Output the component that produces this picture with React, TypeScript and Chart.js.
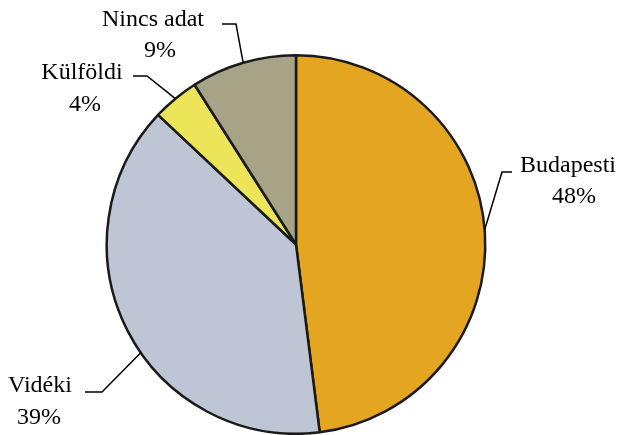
import React, { useEffect, useRef } from "react";
import { Chart, registerables } from "chart.js";

Chart.register(...registerables);

// Share of respondents by place of residence
const categories = ["Budapesti", "Vidéki", "Külföldi", "Nincs adat"];
const shares = [48, 39, 4, 9];
const sliceColors = ["#E4A521", "#BEC6D5", "#ECE55A", "#A7A386"];

// Callout placement: where the leader attaches on the slice (fraction of its
// sweep), the elbow and end of the leader, and the two text lines' anchors.
const callouts = [
  { attach: 0.495, elbow: [502, 172], end: [512, 172], name: [568, 172], pct: [574, 203] },
  { attach: 0.444, elbow: [102, 392], end: [85, 392], name: [40, 392], pct: [39, 424] },
  { attach: 0.5, elbow: [147, 76], end: [133, 76], name: [82, 79], pct: [85, 111] },
  { attach: 0.5, elbow: [236, 24], end: [222, 24], name: [153, 26], pct: [160, 57] },
];

const calloutPlugin = {
  id: "callouts",
  afterDraw(chart: any) {
    const ctx = chart.ctx;
    const meta = chart.getDatasetMeta(0);
    ctx.save();
    meta.data.forEach((arc: any, i: number) => {
      const spec = callouts[i];
      if (!spec) return;
      const { x, y, startAngle, endAngle, outerRadius } = arc.getProps(
        ["x", "y", "startAngle", "endAngle", "outerRadius"],
        true
      );
      const a = startAngle + spec.attach * (endAngle - startAngle);
      const sx = x + outerRadius * Math.cos(a);
      const sy = y + outerRadius * Math.sin(a);
      ctx.beginPath();
      ctx.strokeStyle = "#000000";
      ctx.lineWidth = 1.5;
      ctx.moveTo(sx, sy);
      ctx.lineTo(spec.elbow[0], spec.elbow[1]);
      ctx.lineTo(spec.end[0], spec.end[1]);
      ctx.stroke();

      ctx.fillStyle = "#000000";
      ctx.font = '24px "Liberation Serif", "Times New Roman", serif';
      ctx.textAlign = "center";
      ctx.textBaseline = "alphabetic";
      ctx.fillText(categories[i], spec.name[0], spec.name[1]);
      ctx.fillText(`${shares[i]}%`, spec.pct[0], spec.pct[1]);
    });
    ctx.restore();
  },
};

export default function App() {
  const canvasRef = useRef<HTMLCanvasElement | null>(null);

  useEffect(() => {
    const canvas = canvasRef.current;
    if (!canvas) return;
    const chart = new Chart(canvas, {
      type: "pie",
      data: {
        labels: categories,
        datasets: [
          {
            data: shares,
            backgroundColor: sliceColors,
            borderColor: "#1a1a1a",
            borderWidth: 2.5,
          },
        ],
      },
      options: {
        responsive: false,
        animation: false,
        layout: { padding: { left: 105, right: 133, top: 54, bottom: 0 } },
        plugins: {
          legend: { display: false },
          tooltip: { enabled: false },
        },
      },
      plugins: [calloutPlugin],
    });
    return () => chart.destroy();
  }, []);

  return (
    <div style={{ position: "absolute", left: 0, top: 0, width: 620, height: 435, background: "#fff" }}>
      <canvas ref={canvasRef} width={620} height={435} />
    </div>
  );
}
